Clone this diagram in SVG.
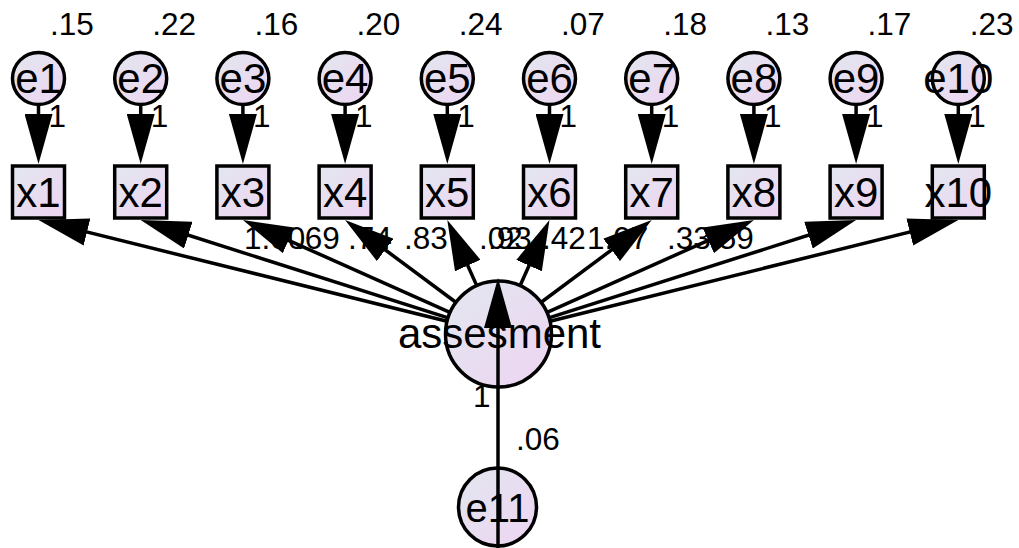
<svg xmlns="http://www.w3.org/2000/svg" width="1019" height="548" viewBox="0 0 1019 548">
<defs>
<linearGradient id="fill" x1="0" y1="0" x2="1" y2="1">
<stop offset="0" stop-color="#e2e7ef"/>
<stop offset="1" stop-color="#eed4f2"/>
</linearGradient>
<marker id="ah" markerUnits="userSpaceOnUse" viewBox="0 0 50 28" refX="40" refY="14" markerWidth="50" markerHeight="28" orient="auto">
<path d="M0,0 L50,14 L0,28 z" fill="#000"/>
</marker>
<style>
.n{fill:url(#fill);stroke:#000;stroke-width:3.5}
.t{font-family:"Liberation Sans",Arial,sans-serif;font-size:42px;fill:#000;text-anchor:middle}
.v{font-family:"Liberation Sans",Arial,sans-serif;font-size:31.5px;fill:#000}
.c{stroke:#000;stroke-width:3.5;fill:none;marker-end:url(#ah)}
</style>
</defs>
<rect width="1019" height="548" fill="#fff"/>
<g id="labels" class="v">
<text x="50" y="35">.15</text>
<text x="152.2" y="35">.22</text>
<text x="254.4" y="35">.16</text>
<text x="356.6" y="35">.20</text>
<text x="458.8" y="35">.24</text>
<text x="561" y="35">.07</text>
<text x="663.2" y="35">.18</text>
<text x="765.4" y="35">.13</text>
<text x="867.6" y="35">.17</text>
<text x="969.8" y="35">.23</text>
<text x="48.5" y="127">1</text>
<text x="150.7" y="127">1</text>
<text x="252.9" y="127">1</text>
<text x="355.1" y="127">1</text>
<text x="457.3" y="127">1</text>
<text x="559.5" y="127">1</text>
<text x="661.7" y="127">1</text>
<text x="763.9" y="127">1</text>
<text x="866.1" y="127">1</text>
<text x="968.3" y="127">1</text>
<text x="244" y="249">1.00</text>
<text x="296" y="249">.69</text>
<text x="348" y="249">.74</text>
<text x="404" y="249">.83</text>
<text x="479" y="249">.02</text>
<text x="488" y="249">.93</text>
<text x="542" y="249">.42</text>
<text x="587" y="249">1.07</text>
<text x="667" y="249">.33</text>
<text x="710" y="249">.59</text>
<text x="473" y="407">1</text>
<text x="516" y="450">.06</text>
</g>
<g id="e1"><circle class="n" cx="38.5" cy="78.5" r="26"/><text class="t" x="38.5" y="93">e1</text></g>
<g id="e2"><circle class="n" cx="140.7" cy="78.5" r="26"/><text class="t" x="140.7" y="93">e2</text></g>
<g id="e3"><circle class="n" cx="242.9" cy="78.5" r="26"/><text class="t" x="242.9" y="93">e3</text></g>
<g id="e4"><circle class="n" cx="345.1" cy="78.5" r="26"/><text class="t" x="345.1" y="93">e4</text></g>
<g id="e5"><circle class="n" cx="447.3" cy="78.5" r="26"/><text class="t" x="447.3" y="93">e5</text></g>
<g id="e6"><circle class="n" cx="549.5" cy="78.5" r="26"/><text class="t" x="549.5" y="93">e6</text></g>
<g id="e7"><circle class="n" cx="651.7" cy="78.5" r="26"/><text class="t" x="651.7" y="93">e7</text></g>
<g id="e8"><circle class="n" cx="753.9" cy="78.5" r="26"/><text class="t" x="753.9" y="93">e8</text></g>
<g id="e9"><circle class="n" cx="856.1" cy="78.5" r="26"/><text class="t" x="856.1" y="93">e9</text></g>
<g id="e10"><circle class="n" cx="958.3" cy="78.5" r="26"/><text class="t" x="958.3" y="93">e10</text></g>
<g id="x1"><rect class="n" x="12.5" y="166" width="52" height="52"/><text class="t" x="38.5" y="207">x1</text></g>
<g id="x2"><rect class="n" x="114.7" y="166" width="52" height="52"/><text class="t" x="140.7" y="207">x2</text></g>
<g id="x3"><rect class="n" x="216.9" y="166" width="52" height="52"/><text class="t" x="242.9" y="207">x3</text></g>
<g id="x4"><rect class="n" x="319.1" y="166" width="52" height="52"/><text class="t" x="345.1" y="207">x4</text></g>
<g id="x5"><rect class="n" x="421.3" y="166" width="52" height="52"/><text class="t" x="447.3" y="207">x5</text></g>
<g id="x6"><rect class="n" x="523.5" y="166" width="52" height="52"/><text class="t" x="549.5" y="207">x6</text></g>
<g id="x7"><rect class="n" x="625.7" y="166" width="52" height="52"/><text class="t" x="651.7" y="207">x7</text></g>
<g id="x8"><rect class="n" x="727.9" y="166" width="52" height="52"/><text class="t" x="753.9" y="207">x8</text></g>
<g id="x9"><rect class="n" x="830.1" y="166" width="52" height="52"/><text class="t" x="856.1" y="207">x9</text></g>
<g id="x10"><rect class="n" x="932.3" y="166" width="52" height="52"/><text class="t" x="958.3" y="207">x10</text></g>
<g id="assesment"><circle class="n" cx="498.5" cy="334" r="53"/><text class="t" x="499.5" y="348">assesment</text></g>
<g id="e11"><circle class="n" cx="497.5" cy="507" r="39"/><text class="t" x="497.5" y="522" style="font-size:40px">e11</text></g>
<g id="connectors">
<line class="c" x1="38.5" y1="105" x2="38.5" y2="154"/>
<line class="c" x1="140.7" y1="105" x2="140.7" y2="154"/>
<line class="c" x1="242.9" y1="105" x2="242.9" y2="154"/>
<line class="c" x1="345.1" y1="105" x2="345.1" y2="154"/>
<line class="c" x1="447.3" y1="105" x2="447.3" y2="154"/>
<line class="c" x1="549.5" y1="105" x2="549.5" y2="154"/>
<line class="c" x1="651.7" y1="105" x2="651.7" y2="154"/>
<line class="c" x1="753.9" y1="105" x2="753.9" y2="154"/>
<line class="c" x1="856.1" y1="105" x2="856.1" y2="154"/>
<line class="c" x1="958.3" y1="105" x2="958.3" y2="154"/>
<line class="c" x1="448" y1="321.5" x2="48.2" y2="222.4"/>
<line class="c" x1="448.9" y1="318.2" x2="150.2" y2="223"/>
<line class="c" x1="451" y1="312.8" x2="252" y2="224.1"/>
<line class="c" x1="456.8" y1="303" x2="353.1" y2="226"/>
<line class="c" x1="477.2" y1="286.6" x2="451.4" y2="229.1"/>
<line class="c" x1="519.7" y1="286.5" x2="545.4" y2="229.1"/>
<line class="c" x1="540.2" y1="303" x2="643.7" y2="226"/>
<line class="c" x1="546" y1="312.8" x2="744.8" y2="224.1"/>
<line class="c" x1="548" y1="318.2" x2="846.6" y2="223"/>
<line class="c" x1="549" y1="321.5" x2="948.6" y2="222.4"/>
<line class="c" x1="498" y1="548" x2="498" y2="288"/>
</g>
</svg>
